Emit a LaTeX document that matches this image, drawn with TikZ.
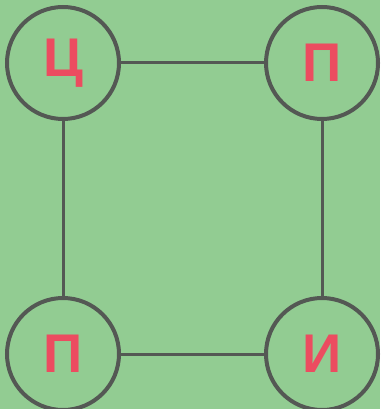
\documentclass[tikz,border=0pt]{standalone}
\usepackage{fontspec}
\newfontfamily\letterfont{Liberation Sans}
\usepackage{tikz}
\usetikzlibrary{positioning}
\definecolor{bggreen}{RGB}{146,204,146}
\definecolor{ringgray}{RGB}{84,88,84}
\definecolor{letterred}{RGB}{236,76,96}
\tikzset{
  ringnode/.style={circle,draw=ringgray,line width=0.08cm,fill=bggreen,minimum size=2.24cm,inner sep=0pt,
    text=letterred,font=\letterfont\bfseries\fontsize{31}{31}\selectfont},
  edgeline/.style={draw=ringgray,line width=0.06cm}
}
\begin{document}
\begin{tikzpicture}[node distance=3.5cm and 2.86cm]
  %% Background
  \fill[bggreen] (0,0) rectangle (7.6,-8.18);
  \useasboundingbox (0,0) rectangle (7.6,-8.18);

  %% Circles
  \node[ringnode] (ts) at (1.26,-1.26) {Ц};
  \node[ringnode,right=of ts] (tp) {П};
  \node[ringnode,below=of ts] (bp) {П};
  \node[ringnode,below=of tp] (bi) {И};

  %% Connectors
  \draw[edgeline] (ts) -- (tp);
  \draw[edgeline] (ts) -- (bp);
  \draw[edgeline] (tp) -- (bi);
  \draw[edgeline] (bp) -- (bi);
\end{tikzpicture}
\end{document}
